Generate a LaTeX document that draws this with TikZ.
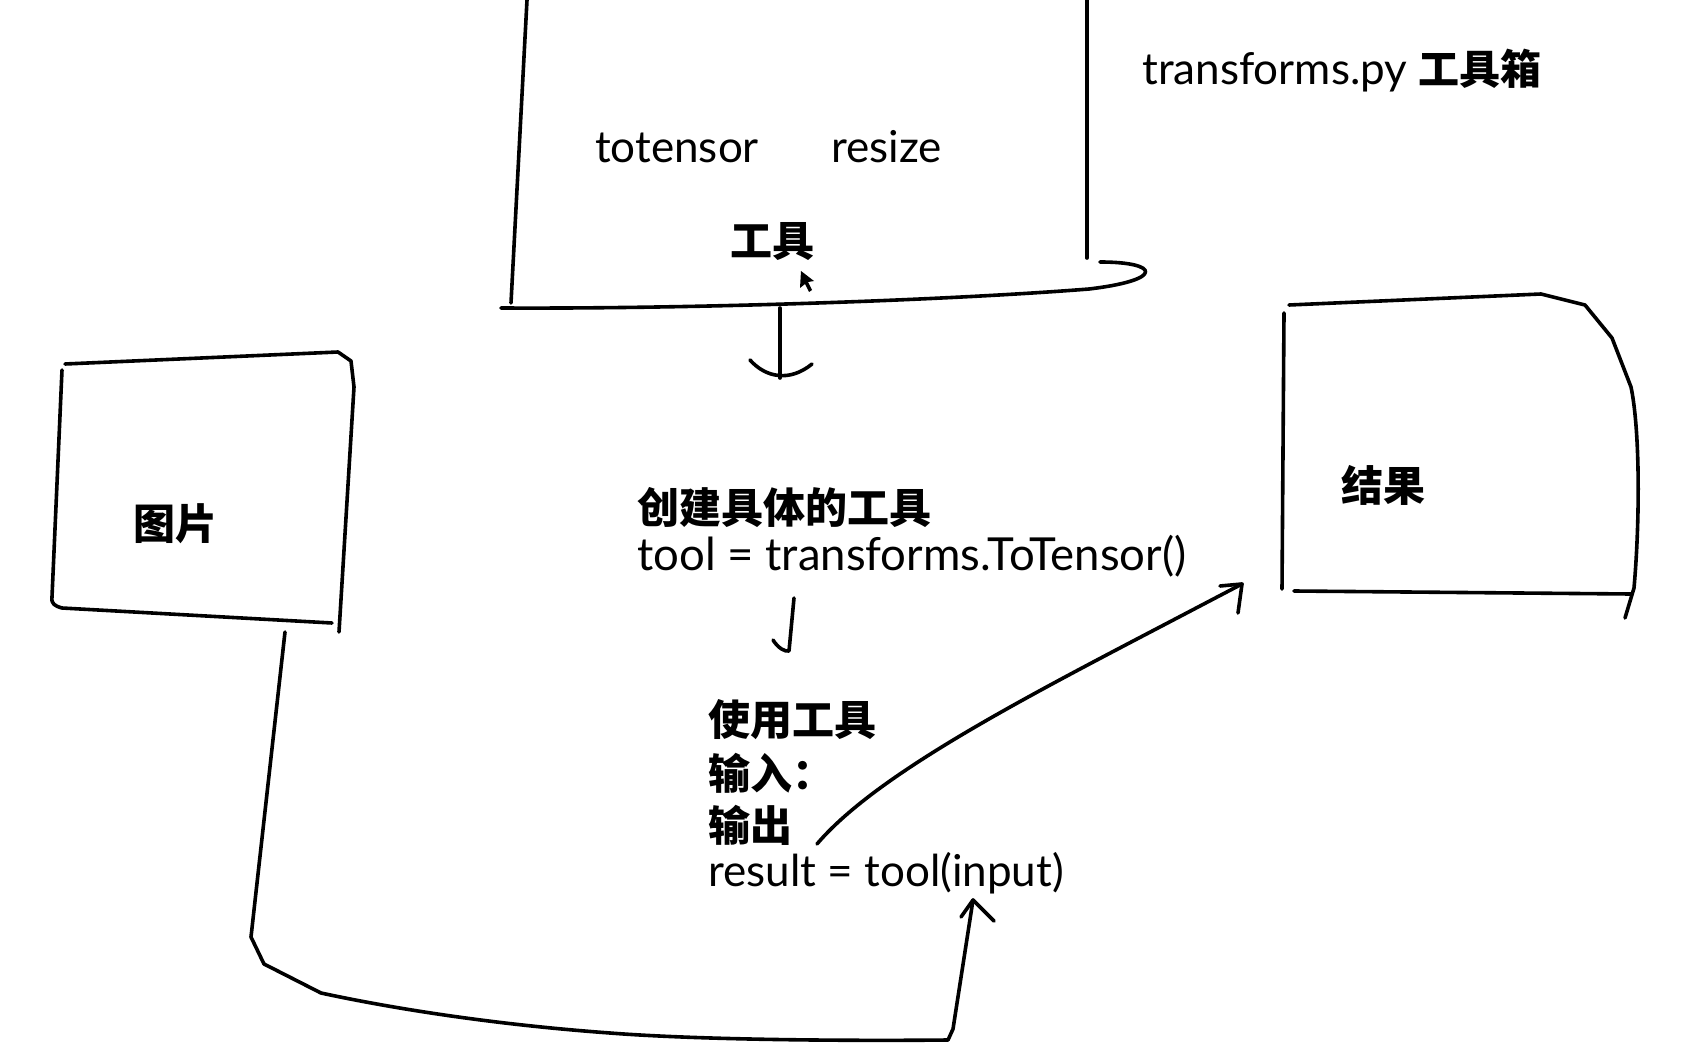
\documentclass[tikz,border=0pt]{standalone}
\usepackage{fontspec}
\setmainfont{Lato}
\newfontfamily\cjk{Noto Sans CJK SC}
\begin{document}
\begin{tikzpicture}[x=1pt,y=-1pt,
  stroke/.style={line width=3.6pt, line cap=round, line join=round},
  hand/.style={font=\fontsize{44}{52}\selectfont, inner sep=0pt},
  cjkbold/.style={font=\cjk\bfseries\fontsize{42}{50}\selectfont, inner sep=0pt}]
\useasboundingbox[fill=white] (0,0) rectangle (1708,1048);

% ---- toolbox (top) ----
\draw[stroke] (527,0) -- (511,303);
\draw[stroke] (1087,0) -- (1087,258);
\draw[stroke] (501,308) .. controls (700,309) and (950,300) .. (1089,289)
   .. controls (1165,280) and (1160,262) .. (1100,262);
\node[hand, anchor=base west] (totensor) at (595,163) {totensor};
\node[hand, anchor=base west] (resize) at (831,163) {resize};
\node[cjkbold] (tool) at (772,242) {工具};
% mouse cursor
\fill (801,271) -- (800,288) -- (805,284) -- (809,292) -- (812,290) -- (808,282) -- (814,281) -- cycle;

\node[hand, anchor=base west] (title) at (1142,85) {transforms.py {\cjk\bfseries\fontsize{41}{50}\selectfont 工具箱}};

% ---- picture box ----
\draw[stroke] (65,364) -- (338,352) -- (351,361) -- (354,387) -- (339,632);
\draw[stroke] (62,370) -- (52,597) .. controls (51,604) and (55,606) .. (62,608) -- (332,623);
\node[cjkbold] (img) at (175,524) {图片};

% ---- result box ----
\draw[stroke] (1289,305) -- (1541,294) -- (1585,305) -- (1612,338) -- (1631,387)
   .. controls (1640,430) and (1640,520) .. (1634,588) -- (1625,618);
\draw[stroke] (1284,313) -- (1282,589);
\draw[stroke] (1294,591) -- (1631,594);
\node[cjkbold] (res) at (1383,485) {结果};

% ---- middle texts ----
\node[cjkbold, anchor=west] (create) at (637,507) {创建具体的工具};
\node[hand, font=\fontsize{45.5}{52}\selectfont, anchor=base west] (code1) at (637,570) {tool = transforms.ToTensor()};
\node[cjkbold, anchor=west] (use) at (708,720) {使用工具};
\node[cjkbold, anchor=west] (in) at (708,773) {输入：};
\node[cjkbold, anchor=west] (out) at (708,825) {输出};
\node[hand, anchor=base west] (code2) at (708,886) {result = tool(input)};

% ---- connectors ----
\coordinate (a1s) at (780,308);
\coordinate (a1e) at (780,378);
\draw[stroke] (a1s) -- (a1e);
\draw[stroke] (750,360) .. controls (766,378) and (790,382) .. (812,364);

\coordinate (a2s) at (794,598);
\coordinate (a2e) at (789,651);
\draw[stroke] (a2s) -- (a2e) .. controls (785,652) and (778,648) .. (773,640);

\coordinate (a3s) at (817,844);
\coordinate (a3e) at (1242,584);
\draw[stroke] (a3s) .. controls (880,770) and (1040,690) .. (1200,606) -- (a3e);
\draw[stroke] (1220,586) -- (a3e) -- (1238,613);

\coordinate (a4s) at (285,632);
\coordinate (a4e) at (973,900);
\draw[stroke] (a4s) -- (251,937) -- (264,964) -- (321,993) .. controls (400,1010) and (500,1025) .. (610,1033)
   .. controls (700,1040) and (850,1041) .. (948,1040) -- (953,1029) -- (a4e);
\draw[stroke] (961,917) -- (a4e) -- (994,921);
\end{tikzpicture}
\end{document}
